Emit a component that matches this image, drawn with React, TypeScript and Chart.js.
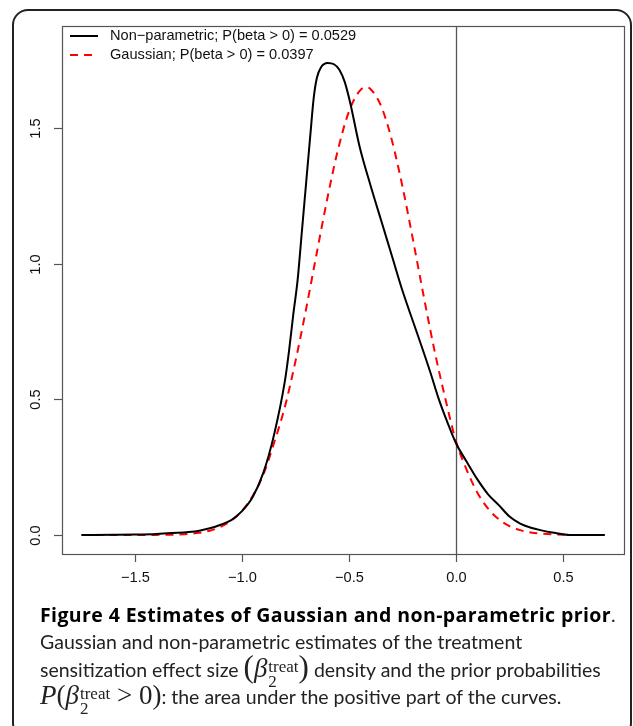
import React, { useEffect, useRef } from "react";
import { Chart, registerables } from "chart.js";

Chart.register(...registerables);

// ---- data ----
const npX = [-1.75, -1.6, -1.5, -1.4, -1.3, -1.25, -1.2, -1.15, -1.1, -1.05, -1.0, -0.95, -0.9, -0.85, -0.8, -0.78, -0.76, -0.74, -0.72, -0.7, -0.68, -0.665, -0.65, -0.63, -0.6, -0.57, -0.545, -0.52, -0.495, -0.45, -0.4, -0.35, -0.3, -0.25, -0.2, -0.16, -0.12, -0.08, -0.04, 0, 0.05, 0.1, 0.15, 0.2, 0.25, 0.3, 0.35, 0.4, 0.45, 0.5, 0.53, 0.6, 0.695];
const npY = [0, 0.001, 0.002, 0.004, 0.008, 0.011, 0.016, 0.025, 0.038, 0.055, 0.088, 0.14, 0.23, 0.37, 0.565, 0.68, 0.815, 0.94, 1.12, 1.3, 1.48, 1.61, 1.685, 1.725, 1.74, 1.735, 1.715, 1.67, 1.595, 1.43, 1.29, 1.16, 1.03, 0.9, 0.785, 0.694, 0.6, 0.5, 0.415, 0.338, 0.27, 0.205, 0.15, 0.11, 0.068, 0.042, 0.027, 0.017, 0.009, 0.003, 0, 0, 0];

const gaussX = [-1.75, -1.5, -1.4, -1.3, -1.2, -1.15, -1.1, -1.05, -1.0, -0.95, -0.9, -0.85, -0.8, -0.75, -0.7, -0.65, -0.6, -0.55, -0.5, -0.45, -0.42, -0.4, -0.35, -0.3, -0.25, -0.2, -0.15, -0.1, -0.05, 0, 0.05, 0.1, 0.15, 0.2, 0.25, 0.3, 0.35, 0.4, 0.5, 0.6, 0.695];
const gaussY = [0, 0.0001, 0.0004, 0.002, 0.008, 0.016, 0.03, 0.053, 0.089, 0.144, 0.223, 0.34, 0.471, 0.641, 0.835, 1.042, 1.245, 1.425, 1.561, 1.637, 1.65, 1.644, 1.581, 1.456, 1.284, 1.084, 0.876, 0.678, 0.503, 0.345, 0.24, 0.156, 0.097, 0.058, 0.033, 0.018, 0.009, 0.005, 0.001, 0, 0];

const seriesLabels = ["Non\u2212parametric; P(beta > 0) = 0.0529", "Gaussian; P(beta > 0) = 0.0397"];
const xTickValues = [-1.5, -1.0, -0.5, 0.0, 0.5];
const xTickLabels = ["\u22121.5", "\u22121.0", "\u22120.5", "0.0", "0.5"];
const yTickValues = [0, 0.5, 1.0, 1.5];
const yTickLabels = ["0.0", "0.5", "1.0", "1.5"];
const refLineX = 0;
const xRange = [-1.841, 0.785];
const yRange = [-0.07, 1.876];

const W = 633;
const H = 726;
const FONT = "'Liberation Sans', Arial, sans-serif";

const rPlugin = {
  id: "rbase",
  beforeDatasetsDraw(chart: any) {
    const { ctx, chartArea: a, scales } = chart;
    const x0 = scales.x.getPixelForValue(refLineX);
    ctx.save();
    ctx.strokeStyle = "#555";
    ctx.lineWidth = 1.3;
    ctx.beginPath();
    ctx.moveTo(Math.round(x0) + 0.5, a.top);
    ctx.lineTo(Math.round(x0) + 0.5, a.bottom);
    ctx.stroke();
    ctx.restore();
  },
  afterDraw(chart: any) {
    const { ctx, chartArea: a, scales } = chart;
    ctx.save();
    // box
    ctx.strokeStyle = "#555";
    ctx.lineWidth = 1.2;
    ctx.strokeRect(a.left + 0.5, a.top + 0.5, a.right - a.left, a.bottom - a.top);
    ctx.fillStyle = "#111";
    ctx.font = `14.6px ${FONT}`;
    // x ticks
    ctx.textAlign = "center";
    ctx.textBaseline = "middle";
    xTickValues.forEach((v, i) => {
      const px = Math.round(scales.x.getPixelForValue(v)) + 0.5;
      ctx.beginPath();
      ctx.moveTo(px, a.bottom);
      ctx.lineTo(px, a.bottom + 8);
      ctx.stroke();
      ctx.fillText(xTickLabels[i], px, a.bottom + 24);
    });
    // y ticks
    yTickValues.forEach((v, i) => {
      const py = Math.round(scales.y.getPixelForValue(v)) + 0.5;
      ctx.beginPath();
      ctx.moveTo(a.left, py);
      ctx.lineTo(a.left - 8, py);
      ctx.stroke();
      ctx.save();
      ctx.translate(a.left - 26, py);
      ctx.rotate(-Math.PI / 2);
      ctx.fillText(yTickLabels[i], 0, 0);
      ctx.restore();
    });
    // legend
    ctx.textAlign = "left";
    chart.data.datasets.forEach((ds: any, i: number) => {
      const ly = a.top + 10 + i * 19;
      ctx.save();
      ctx.strokeStyle = ds.borderColor;
      ctx.lineWidth = ds.borderWidth;
      ctx.setLineDash(ds.borderDash || []);
      ctx.beginPath();
      ctx.moveTo(a.left + 8, ly);
      ctx.lineTo(a.left + 36, ly);
      ctx.stroke();
      ctx.restore();
      ctx.fillStyle = "#111";
      ctx.fillText(ds.label, a.left + 48, ly);
    });
    ctx.restore();
  },
};

function PlotCanvas() {
  const ref = useRef<HTMLCanvasElement | null>(null);
  useEffect(() => {
    if (!ref.current) return;
    const chart = new Chart(ref.current, {
      type: "line",
      data: {
        datasets: [
          {
            label: seriesLabels[0],
            data: npX.map((x, i) => ({ x, y: npY[i] })),
            borderColor: "#000000",
            borderWidth: 2,
            pointRadius: 0,
            cubicInterpolationMode: "monotone",
            fill: false,
          },
          {
            label: seriesLabels[1],
            data: gaussX.map((x, i) => ({ x, y: gaussY[i] })),
            borderColor: "#ff0000",
            borderWidth: 2,
            borderDash: [8, 6],
            pointRadius: 0,
            cubicInterpolationMode: "monotone",
            fill: false,
          },
        ],
      },
      options: {
        animation: false,
        responsive: false,
        devicePixelRatio: 1,
        layout: { padding: { left: 62, top: 26, right: W - 624, bottom: H - 554 } },
        plugins: { legend: { display: false }, tooltip: { enabled: false }, title: { display: false } },
        scales: {
          x: { type: "linear", min: xRange[0], max: xRange[1], display: false },
          y: { type: "linear", min: yRange[0], max: yRange[1], display: false },
        },
      } as any,
      plugins: [rPlugin],
    });
    return () => chart.destroy();
  }, []);
  return <canvas ref={ref} width={W} height={H} style={{ position: "absolute", left: 0, top: 0, width: W, height: H }} />;
}

const serif = "'Liberation Serif', 'Times New Roman', serif";

function BetaTreat() {
  return (
    <span style={{ fontFamily: serif, whiteSpace: "nowrap" }}>
      <i style={{ fontSize: 27 }}>β</i>
      <span style={{ display: "inline-block", verticalAlign: "-10px", lineHeight: "15px", fontSize: 17, textAlign: "left", marginLeft: 1 }}>
        <span style={{ display: "block" }}>treat</span>
        <span style={{ display: "block" }}>2</span>
      </span>
    </span>
  );
}

export default function App() {
  return (
    <div style={{ position: "fixed", left: 0, top: 0, width: W, height: H, background: "#fff", overflow: "hidden" }}>
      <div
        style={{
          position: "absolute",
          left: 12,
          top: 9,
          width: 620,
          height: 730,
          boxSizing: "border-box",
          border: "2px solid #222",
          borderRadius: 16,
        }}
      />
      <PlotCanvas />
      <div
        style={{
          position: "absolute",
          left: 40,
          top: 602,
          width: 590,
          fontFamily: "Lato, 'Open Sans', sans-serif",
          fontSize: 19.5,
          lineHeight: "26.5px",
          color: "#222",
          whiteSpace: "nowrap",
        }}
      >
        <div>
          <b style={{ color: "#000", fontFamily: "'Open Sans', sans-serif", fontSize: 19.5, letterSpacing: 0.4 }}>
            Figure 4 Estimates of Gaussian and non-parametric prior
          </b>
          .
        </div>
        <div>Gaussian and non-parametric estimates of the treatment</div>
        <div style={{ height: 27 }}>
          sensitization effect size{" "}
          <span style={{ fontFamily: serif, fontSize: 31, lineHeight: "20px" }}>(</span>
          <BetaTreat />
          <span style={{ fontFamily: serif, fontSize: 31, lineHeight: "20px" }}>)</span> density and the prior probabilities
        </div>
        <div style={{ height: 28 }}>
          <span style={{ fontFamily: serif }}>
            <i style={{ fontSize: 27 }}>P</i>
            <span style={{ fontSize: 27 }}>(</span>
          </span>
          <BetaTreat />
          <span style={{ fontFamily: serif, fontSize: 27 }}> &gt; 0)</span>: the area under the positive part of the curves.
        </div>
      </div>
    </div>
  );
}
